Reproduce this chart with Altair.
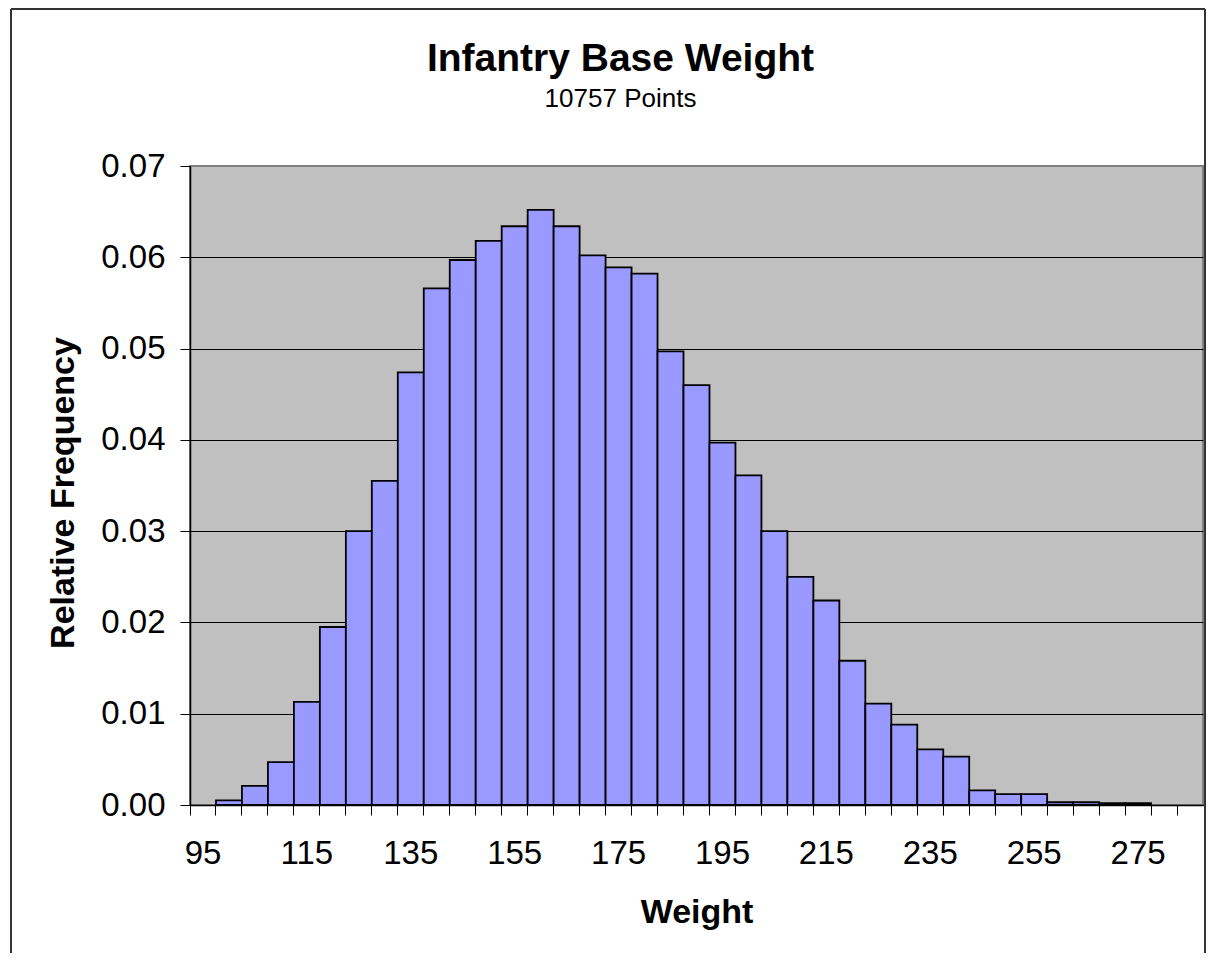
import altair as alt
import pandas as pd

# Histogram bins (lower edge, weight) and relative frequencies
bins = [95, 100, 105, 110, 115, 120, 125, 130, 135, 140, 145, 150, 155, 160, 165,
        170, 175, 180, 185, 190, 195, 200, 205, 210, 215, 220, 225, 230, 235, 240,
        245, 250, 255, 260, 265, 270, 275, 280, 285]
freq = [0.0, 0.0005, 0.0021, 0.0047, 0.0113, 0.0195, 0.0300, 0.0355, 0.0474, 0.0566,
        0.0597, 0.0618, 0.0634, 0.0652, 0.0634, 0.0602, 0.0589, 0.0582, 0.0497, 0.0460,
        0.0397, 0.0361, 0.0300, 0.0250, 0.0224, 0.0158, 0.0111, 0.0088, 0.0061, 0.0053,
        0.0016, 0.0012, 0.0012, 0.0003, 0.0003, 0.0002, 0.0002, 0.0, 0.0]
y_ticks = [0.0, 0.01, 0.02, 0.03, 0.04, 0.05, 0.06, 0.07]

title_text = "Infantry Base Weight"
subtitle_text = "10757 Points"
x_title = "Weight"
y_title = "Relative Frequency"

FONT = "Liberation Sans"
W = 1013
H = 639

df = pd.DataFrame({"bin": [str(b) for b in bins], "freq": freq})
bars_df = df[df["freq"] > 0]
domain = [str(b) for b in bins]

x_enc = alt.X(
    "bin:O",
    scale=alt.Scale(domain=domain, paddingInner=0, paddingOuter=0),
    axis=alt.Axis(
        title=x_title, bandPosition=0, labelOffset=0, labelAngle=0,
        labelExpr="(toNumber(datum.value) - 95) % 20 == 0 ? datum.label : ''",
        labelOverlap=False, tickSize=10, tickColor="black", tickWidth=1,
        domainColor="black", domainWidth=1.5, labelFontSize=33, labelPadding=22,
        labelColor="black", labelFont=FONT, titleFont=FONT, titleFontSize=34,
        titleFontWeight="bold", titleColor="black", titleY=117,
        titleBaseline="alphabetic", grid=False,
    ),
)
y_enc = alt.Y(
    "freq:Q",
    scale=alt.Scale(domain=[0, 0.07], nice=False, zero=True),
    axis=alt.Axis(
        title=y_title, values=y_ticks, format=".2f", tickSize=10, tickColor="black",
        domainColor="black", domainWidth=1.5, labelPadding=15, labelFontSize=33,
        labelColor="black", labelFont=FONT, grid=True,
        gridColor=alt.condition("datum.value >= 0.069", alt.value("#808080"), alt.value("black")),
        gridWidth=1, gridOpacity=1, titleFont=FONT, titleFontSize=34,
        titleFontWeight="bold", titleColor="black", titleX=-117, titleY=326.5,
        titleAlign="center", titleBaseline="alphabetic",
    ),
)

bars = alt.Chart(bars_df).mark_bar(
    fill="#9999FF", stroke="black", strokeWidth=1.8
).encode(x=x_enc, y=y_enc)

one = pd.DataFrame({"a": [0]})
border_style = dict(color="#333333", strokeWidth=2)
top = alt.Chart(one).mark_rule(**border_style).encode(
    x=alt.value(-179), x2=alt.value(W + 2), y=alt.value(-157))
left = alt.Chart(one).mark_rule(**border_style).encode(
    x=alt.value(-179), y=alt.value(-157), y2=alt.value(787))
right = alt.Chart(one).mark_rule(**border_style).encode(
    x=alt.value(W + 2), y=alt.value(-157), y2=alt.value(787))

chart = alt.layer(bars, top, left, right).properties(
    width=W, height=H,
    padding={"left": 2, "top": 0, "right": 0, "bottom": 0},
    background="white",
    title=alt.TitleParams(
        title_text, subtitle=subtitle_text, fontSize=39, fontWeight="bold",
        font=FONT, color="black", subtitleFont=FONT, subtitleFontSize=26,
        subtitleColor="black", anchor="middle", frame="group", dx=-76,
        offset=-103.5, subtitlePadding=7,
    ),
).configure_view(
    fill="#C0C0C0", stroke="#808080", strokeWidth=2
)

chart.save("out.html", embed_options={"renderer": "svg", "actions": False})
